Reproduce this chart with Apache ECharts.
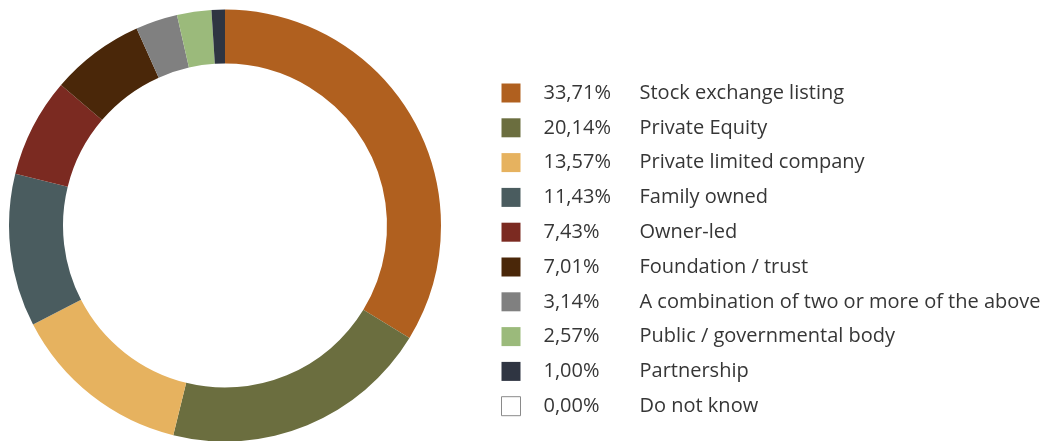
<!DOCTYPE html>
<html>
<head>
<meta charset="utf-8">
<script src="https://cdn.jsdelivr.net/npm/echarts@6/dist/echarts.min.js"></script>
<style>
  html, body { margin: 0; padding: 0; background: #ffffff; }
  #chart { width: 1043px; height: 441px; }
</style>
</head>
<body>
<div id="chart"></div>
<script>
// Ownership structure shares (percent)
const categories = [
  'Stock exchange listing',
  'Private Equity',
  'Private limited company',
  'Family owned',
  'Owner-led',
  'Foundation / trust',
  'A combination of two or more of the above',
  'Public / governmental body',
  'Partnership',
  'Do not know'
];
const shares = [33.71, 20.14, 13.57, 11.43, 7.43, 7.01, 3.14, 2.57, 1.00, 0.00];
const palette = [
  '#B0601F', '#6B6E3F', '#E6B25F', '#4A5C5F', '#7B2A21',
  '#4A2709', '#808080', '#9BBA7B', '#2F3542', '#FFFFFF'
];

const fmt = v => v.toFixed(2).replace('.', ',') + '%';

const chart = echarts.init(document.getElementById('chart'), null, { renderer: 'canvas' });

chart.setOption({
  animation: false,
  color: palette,
  legend: {
    orient: 'vertical',
    left: 501,
    top: 83,
    padding: 0,
    itemWidth: 19,
    itemHeight: 19,
    itemGap: 14.8,
    icon: 'rect',
    data: categories.map((name, i) => ({
      name: name,
      itemStyle: i === categories.length - 1
        ? { color: '#FFFFFF', borderColor: '#8a8a8a', borderWidth: 1 }
        : { color: palette[i] }
    })),
    formatter: name => {
      const i = categories.indexOf(name);
      return '{p|' + fmt(shares[i]) + '}{n|' + name + '}';
    },
    textStyle: {
      fontFamily: 'Open Sans',
      fontSize: 20,
      lineHeight: 19,
      color: '#363636',
      padding: [0, 0, 0, 18],
      rich: {
        p: { width: 96, fontFamily: 'Open Sans', fontSize: 20, lineHeight: 19, color: '#363636' },
        n: { fontFamily: 'Open Sans', fontSize: 20, lineHeight: 19, color: '#363636' }
      }
    },
    selectedMode: false
  },
  series: [{
    type: 'pie',
    center: [225, 225.5],
    radius: [162, 216],
    startAngle: 90,
    clockwise: true,
    label: { show: false },
    labelLine: { show: false },
    emphasis: { disabled: true },
    stillShowZeroSum: false,
    itemStyle: { borderWidth: 0 },
    data: categories.map((name, i) => ({ name: name, value: shares[i] }))
  }]
});
</script>
</body>
</html>
